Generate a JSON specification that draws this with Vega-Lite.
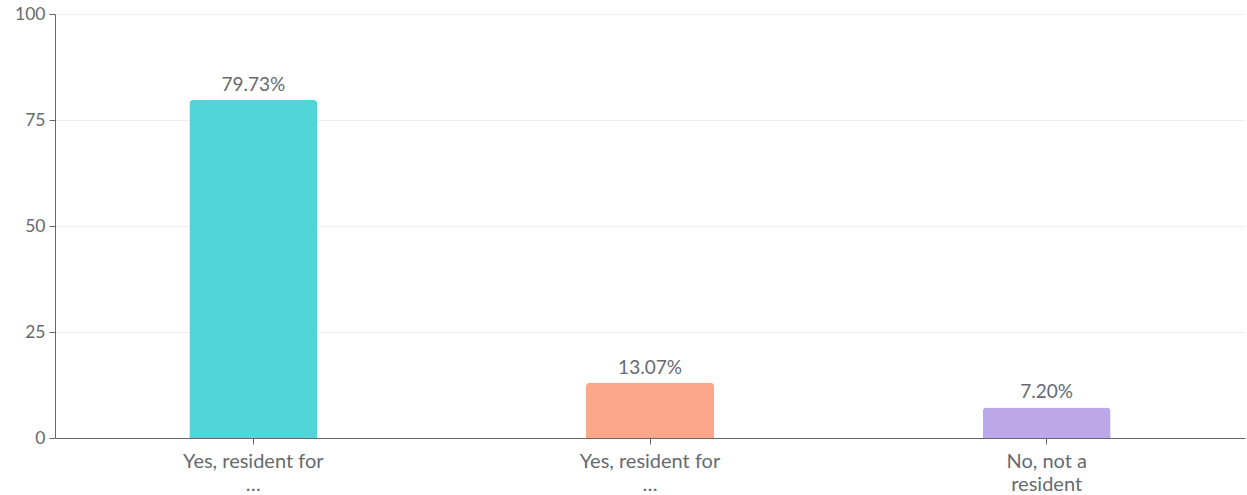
{
  "$schema": "https://vega.github.io/schema/vega-lite/v6.json",
  "width": 1190,
  "height": 424,
  "autosize": {"type": "none"},
  "padding": {"left": 55, "top": 14, "right": 2, "bottom": 57},
  "background": "white",
  "config": {
    "view": {"stroke": null},
    "font": "Lato"
  },
  "data": {
    "values": [
      {"answer": "Yes, resident for A", "pct": 79.73, "text": "79.73%"},
      {"answer": "Yes, resident for B", "pct": 13.07, "text": "13.07%"},
      {"answer": "No, not a resident", "pct": 7.20, "text": "7.20%"}
    ]
  },
  "encoding": {
    "x": {
      "field": "answer",
      "type": "nominal",
      "sort": null,
      "scale": {"paddingInner": 0, "paddingOuter": 0},
      "axis": {
        "title": null,
        "labelAngle": 0,
        "labelFontSize": 20,
        "labelColor": "#666a70",
        "labelLineHeight": 23,
        "labelPadding": 7,
        "labelExpr": "indexof(datum.value, 'Yes') == 0 ? ['Yes, resident for', '…'] : ['No, not a', 'resident']",
        "domainColor": "#666666",
        "tickColor": "#666666",
        "tickSize": 6,
        "grid": false
      }
    },
    "y": {
      "field": "pct",
      "type": "quantitative",
      "scale": {"domain": [0, 100], "nice": false},
      "axis": {
        "title": null,
        "values": [0, 25, 50, 75, 100],
        "labelFontSize": 17.5,
        "labelColor": "#666a70",
        "labelPadding": 4,
        "domainColor": "#666666",
        "tickColor": "#666666",
        "tickSize": 6,
        "gridColor": "#eeeeee",
        "gridWidth": 1
      }
    }
  },
  "layer": [
    {
      "mark": {"type": "bar", "width": 128, "cornerRadiusTopLeft": 4, "cornerRadiusTopRight": 4},
      "encoding": {
        "color": {
          "field": "answer",
          "type": "nominal",
          "sort": null,
          "scale": {"range": ["#52d4d9", "#fca78c", "#bca8e8"]},
          "legend": null
        }
      }
    },
    {
      "mark": {"type": "text", "dy": -15, "fontSize": 19, "color": "#666a70"},
      "encoding": {"text": {"field": "text"}}
    }
  ]
}
